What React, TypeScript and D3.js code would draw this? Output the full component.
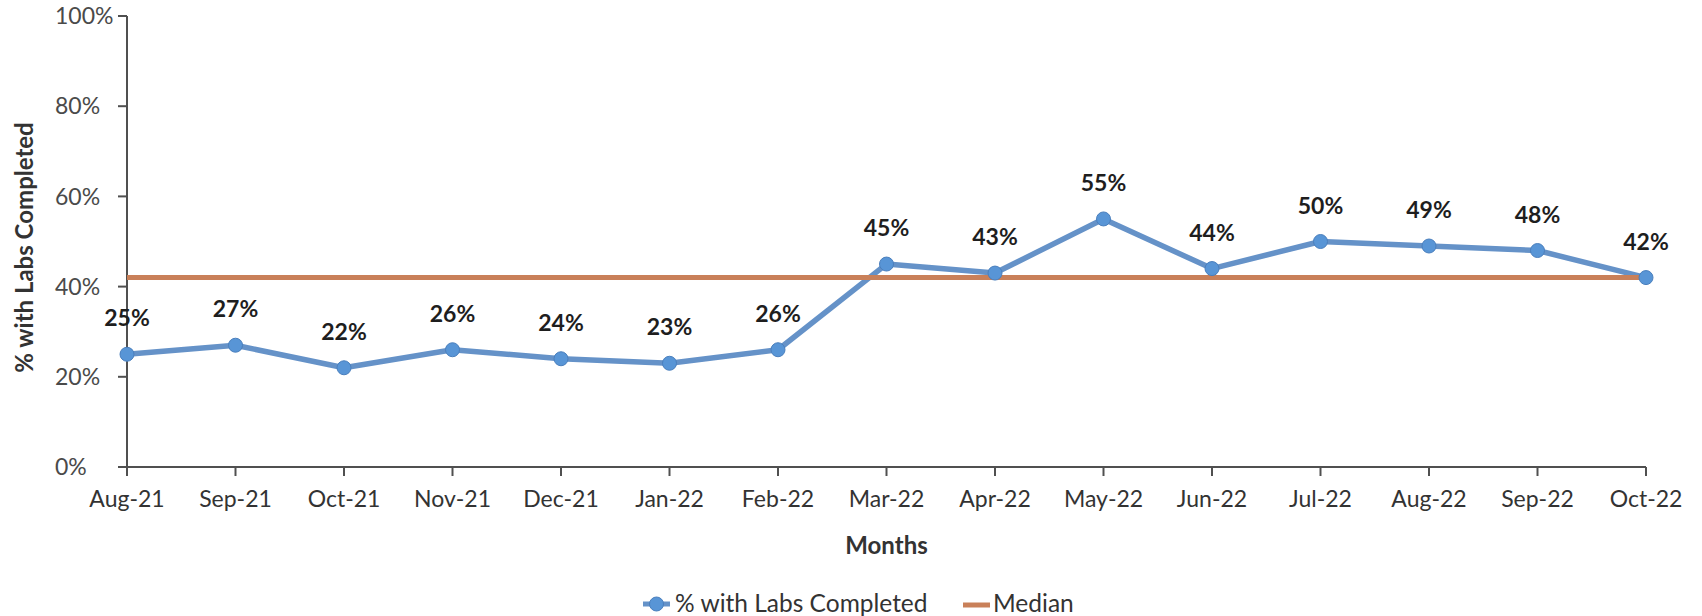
import React from "react";
import * as d3 from "d3";

const months = [
  "Aug-21", "Sep-21", "Oct-21", "Nov-21", "Dec-21", "Jan-22", "Feb-22", "Mar-22",
  "Apr-22", "May-22", "Jun-22", "Jul-22", "Aug-22", "Sep-22", "Oct-22",
];
const pctLabsCompleted = [25, 27, 22, 26, 24, 23, 26, 45, 43, 55, 44, 50, 49, 48, 42];
const medianValues = [42, 42, 42, 42, 42, 42, 42, 42, 42, 42, 42, 42, 42, 42, 42];
const yTicks = [0, 20, 40, 60, 80, 100];
const seriesName = "% with Labs Completed";
const medianName = "Median";
const xTitle = "Months";
const yTitle = "% with Labs Completed";

const FONT = "Lato, 'Open Sans', sans-serif";
const BLUE_LINE = "#6592c8";
const BLUE_MARK = "#5895d6";
const ORANGE = "#c98059";
const AXIS = "#505050";
const TEXT = "#333333";

export default function App() {
  const W = 1702;
  const H = 616;
  const x = d3.scalePoint<string>().domain(months).range([127, 1646]);
  const y = d3.scaleLinear().domain([0, 100]).range([467, 16]);

  const seriesLine = d3
    .line<number>()
    .x((_, i) => x(months[i]) as number)
    .y((d) => y(d));

  const x0 = x(months[0]) as number;
  const x1 = x(months[months.length - 1]) as number;

  return (
    <svg
      width={W}
      height={H}
      style={{ position: "absolute", left: 0, top: 0, background: "#fff" }}
      fontFamily={FONT}
    >
      <rect x={0} y={0} width={W} height={H} fill="#fff" />
      {/* Y axis */}
      <line x1={x0} x2={x0} y1={y(100)} y2={y(0) + 9} stroke={AXIS} strokeWidth={2} />
      {yTicks.map((t) => (
        <g key={t}>
          <line x1={x0 - 9} x2={x0} y1={y(t)} y2={y(t)} stroke={AXIS} strokeWidth={2} />
          <text
            x={55}
            y={y(t)}
            dy="0.36em"
            textAnchor="start"
            fontSize={23}
            fill="#4a4a4a"
          >
            {t}%
          </text>
        </g>
      ))}
      {/* X axis */}
      <line x1={x0 - 9} x2={x1} y1={y(0)} y2={y(0)} stroke={AXIS} strokeWidth={2} />
      {months.map((m) => (
        <g key={m}>
          <line
            x1={x(m)}
            x2={x(m)}
            y1={y(0)}
            y2={y(0) + 9}
            stroke={AXIS}
            strokeWidth={2}
          />
          <text x={x(m)} y={507} textAnchor="middle" fontSize={23} fill={TEXT}>
            {m}
          </text>
        </g>
      ))}
      {/* Axis titles */}
      <text
        x={(x0 + x1) / 2}
        y={554}
        textAnchor="middle"
        fontSize={24}
        fontWeight="bold"
        fill={TEXT}
      >
        {xTitle}
      </text>
      <text
        transform={`translate(33, ${(y(0) + y(100)) / 2 + 6}) rotate(-90)`}
        textAnchor="middle"
        fontSize={24}
        fontWeight="bold"
        fill={TEXT}
      >
        {yTitle}
      </text>

      {/* Series line */}
      <path
        d={seriesLine(pctLabsCompleted) || ""}
        fill="none"
        stroke={BLUE_LINE}
        strokeWidth={5.5}
        strokeLinejoin="round"
      />
      {/* Median */}
      <path
        d={seriesLine(medianValues) || ""}
        fill="none"
        stroke={ORANGE}
        strokeWidth={5}
      />
      {/* Markers */}
      {pctLabsCompleted.map((v, i) => (
        <circle
          key={i}
          cx={x(months[i])}
          cy={y(v)}
          r={7}
          fill={BLUE_MARK}
          stroke="#4a7fbd"
          strokeWidth={1}
        />
      ))}
      {/* Data labels */}
      {pctLabsCompleted.map((v, i) => (
        <text
          key={i}
          x={x(months[i])}
          y={y(v) - 28}
          textAnchor="middle"
          fontSize={23}
          fontWeight="bold"
          fill="#1e1e1e"
        >
          {v}%
        </text>
      ))}

      {/* Legend */}
      <g>
        <line x1={643} x2={670} y1={604} y2={604} stroke={BLUE_LINE} strokeWidth={5} />
        <circle cx={656.5} cy={604} r={7} fill={BLUE_MARK} stroke="#4a7fbd" strokeWidth={1} />
        <text x={675} y={612} fontSize={24.5} fill={TEXT}>
          {seriesName}
        </text>
        <line x1={963} x2={990} y1={605} y2={605} stroke={ORANGE} strokeWidth={5} />
        <text x={993} y={612} fontSize={24.5} fill={TEXT}>
          {medianName}
        </text>
      </g>
    </svg>
  );
}
